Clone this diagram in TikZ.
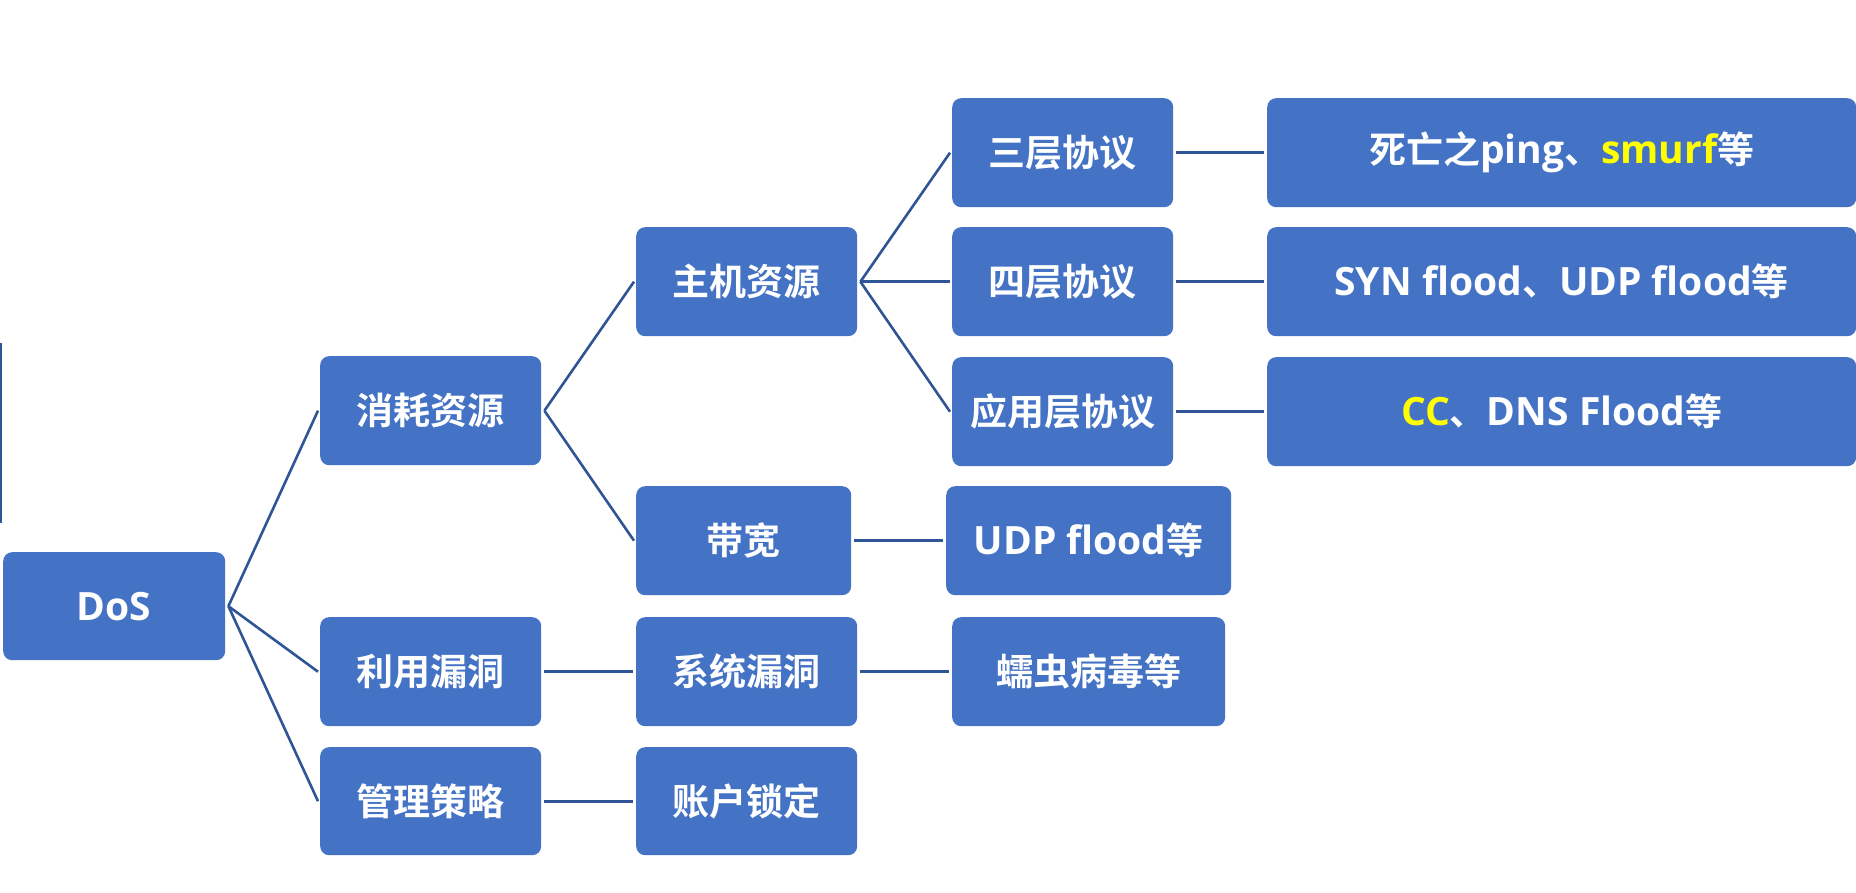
\documentclass[tikz,border=0pt]{standalone}
\usepackage{fontspec}
\setmainfont{Noto Sans CJK SC}
\newfontfamily\cjkb{Noto Sans CJK SC Bold}
\newfontfamily\latnfont{Open Sans}
\newcommand{\latn}[1]{{\latnfont\bfseries\fontsize{39}{40}\selectfont #1}}
\definecolor{boxblue}{RGB}{68,114,196}
\definecolor{linkblue}{RGB}{47,85,151}
\definecolor{hiyellow}{RGB}{255,255,0}
\tikzset{
  box/.style={rectangle, rounded corners=9pt, fill=boxblue, text=white, inner sep=0pt,
    font=\cjkb\fontsize{37}{40}\selectfont, anchor=north west},
  link/.style={draw=linkblue, line width=2.6pt},
}
\begin{document}
\begin{tikzpicture}[x=1pt,y=-1pt]
\useasboundingbox (0,0) rectangle (1856,893);
\clip (0,0) rectangle (1856,893);
\fill[white] (0,0) rectangle (1856,893);
% partial object at left edge
\fill[linkblue] (0,343) rectangle (2,523);
% nodes
\node[box, minimum width=222pt, minimum height=108pt] (dos) at (3,552) {\latn{DoS}};
\node[box, minimum width=221pt, minimum height=109pt] (xh) at (320,356) {消耗资源};
\node[box, minimum width=221pt, minimum height=109pt] (ly) at (320,617) {利用漏洞};
\node[box, minimum width=221pt, minimum height=108pt] (gl) at (320,747) {管理策略};
\node[box, minimum width=221pt, minimum height=109pt] (zj) at (636,227) {主机资源};
\node[box, minimum width=215pt, minimum height=109pt] (dk) at (636,486) {带宽};
\node[box, minimum width=221pt, minimum height=109pt] (xt) at (636,617) {系统漏洞};
\node[box, minimum width=221pt, minimum height=108pt] (zh) at (636,747) {账户锁定};
\node[box, minimum width=221pt, minimum height=109pt] (s3) at (952,98) {三层协议};
\node[box, minimum width=221pt, minimum height=109pt] (s4) at (952,227) {四层协议};
\node[box, minimum width=221pt, minimum height=109pt] (yy) at (952,357) {应用层协议};
\node[box, minimum width=285pt, minimum height=109pt] (udp) at (946,486) {\latn{UDP flood}等};
\node[box, minimum width=273pt, minimum height=109pt] (rc) at (952,617) {蠕虫病毒等};
\node[box, minimum width=589pt, minimum height=109pt] (r1) at (1267,98) {死亡之\latn{ping}、\textcolor{hiyellow}{\latn{smurf}}等};
\node[box, minimum width=589pt, minimum height=109pt] (r2) at (1267,227) {\latn{SYN flood}、\latn{UDP flood}等};
\node[box, minimum width=589pt, minimum height=109pt] (r3) at (1267,357) {\textcolor{hiyellow}{\latn{CC}}、\latn{DNS Flood}等};
% connectors
\coordinate (dosj) at ([xshift=3pt]dos.east);
\coordinate (xhj) at ([xshift=3pt]xh.east);
\coordinate (zjj) at ([xshift=3pt]zj.east);
\draw[link] (dosj) -- ([xshift=-2pt]xh.west);
\draw[link] (dosj) -- ([xshift=-2pt]ly.west);
\draw[link] (dosj) -- ([xshift=-2pt]gl.west);
\draw[link] (xhj) -- ([xshift=-2pt]zj.west);
\draw[link] (xhj) -- ([xshift=-2pt]dk.west);
\draw[link] (zjj) -- ([xshift=-2pt]s3.west);
\draw[link] (zjj) -- ([xshift=-2pt]s4.west);
\draw[link] (zjj) -- ([xshift=-2pt]yy.west);
\draw[link, shorten <=3pt, shorten >=3pt] (ly.east) -- (xt.west);
\draw[link, shorten <=3pt, shorten >=3pt] (gl.east) -- (zh.west);
\draw[link, shorten <=3pt, shorten >=3pt] (dk.east) -- (udp.west);
\draw[link, shorten <=3pt, shorten >=3pt] (xt.east) -- (rc.west);
\draw[link, shorten <=3pt, shorten >=3pt] (s3.east) -- (r1.west);
\draw[link, shorten <=3pt, shorten >=3pt] (s4.east) -- (r2.west);
\draw[link, shorten <=3pt, shorten >=3pt] (yy.east) -- (r3.west);
\end{tikzpicture}
\end{document}
